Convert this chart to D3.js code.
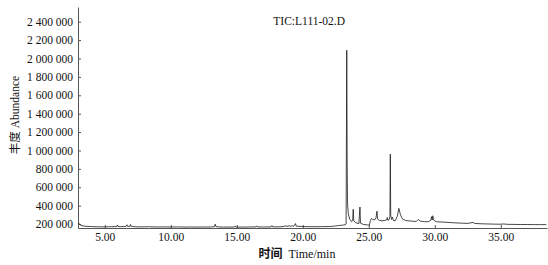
<!DOCTYPE html>
<html>
<head>
<meta charset="utf-8">
<script src="https://cdn.jsdelivr.net/npm/d3@7"></script>
<style>
  body { margin: 0; background: #fff; }
  .tick text { font-family: "Liberation Serif", serif; font-size: 11.5px; fill: #111; }
</style>
</head>
<body>
<svg id="chart"></svg>
<script>
var width = 548;
var height = 265;

// retention time (min) and abundance
var times = [2.97, 3.05, 3.2, 3.5, 4.0, 4.5, 5.0, 5.5, 5.9, 5.95, 6.0, 6.3, 6.6, 6.68, 6.72, 6.9, 6.95, 7.0, 7.2,
  7.6, 8.0, 8.3, 8.35, 8.4, 9.0, 9.5, 10.0, 10.5, 11.0, 11.5, 12.0, 12.5, 13.0, 13.3, 13.36, 13.42, 13.6,
  14.0, 14.5, 14.85, 14.9, 14.95, 15.5, 16.0, 16.45, 16.5, 16.55, 17.0, 17.6, 17.66, 17.72, 18.2, 18.5,
  18.7, 18.8, 18.95, 19.05, 19.2, 19.3, 19.45, 19.5, 19.7, 20.0, 20.5, 21.0, 21.5, 22.0, 22.4, 22.7,
  23.0, 23.2, 23.28, 23.33, 23.36, 23.39, 23.45, 23.55, 23.7, 23.78, 23.82, 23.86, 24.0, 24.25, 24.33,
  24.37, 24.6, 24.9, 25.05, 25.12, 25.2, 25.3, 25.45, 25.55, 25.62, 25.66, 25.8, 26.0, 26.2, 26.35,
  26.4, 26.45, 26.55, 26.6, 26.63, 26.66, 26.72, 26.8, 26.85, 27.0, 27.15, 27.28, 27.4, 27.55, 27.8,
  28.2, 28.6, 28.75, 28.9, 29.2, 29.5, 29.7, 29.75, 29.8, 29.85, 29.9, 30.1, 30.5, 31.0, 31.4, 32.0,
  32.5, 32.9, 33.0, 33.5, 34.0, 34.5, 35.0, 35.2, 35.5, 36.0, 36.5, 37.0, 37.5, 38.0, 38.45];
var abundance = [215000, 205000, 185000, 176000, 172000, 170000, 169000, 171000, 172000, 190000, 173000, 171000, 174000, 192000, 175000, 175000, 195000, 176000, 171000,
  169000, 170000, 170000, 178000, 170000, 168000, 169000, 168000, 169000, 167000, 168000, 167000, 168000, 168000, 171000, 198000, 172000, 169000,
  167000, 167000, 168000, 178000, 167000, 167000, 168000, 169000, 180000, 169000, 168000, 169000, 183000, 169000, 170000, 172000,
  180000, 175000, 182000, 176000, 181000, 174000, 205000, 177000, 175000, 173000, 171000, 171000, 172000, 173000, 177000, 184000,
  188000, 191000, 200000, 2090000, 900000, 420000, 310000, 255000, 225000, 240000, 360000, 235000, 215000, 205000, 385000,
  210000, 195000, 190000, 188000, 240000, 260000, 250000, 245000, 270000, 340000, 255000, 240000, 235000, 238000, 245000,
  270000, 240000, 250000, 280000, 960000, 300000, 250000, 275000, 240000, 235000, 280000, 370000, 300000, 255000, 238000,
  232000, 228000, 250000, 232000, 226000, 225000, 240000, 280000, 245000, 290000, 245000, 225000, 222000, 218000, 214000, 210000,
  207000, 218000, 207000, 203000, 201000, 199000, 198000, 201000, 197000, 196000, 195000, 195000, 194000, 194000, 194000];

var x_ticks = [5, 10, 15, 20, 25, 30, 35];
var y_ticks = [200000, 400000, 600000, 800000, 1000000, 1200000, 1400000, 1600000, 1800000, 2000000, 2200000, 2400000];

var title = "TIC:L111-02.D";
var x_title_cn = "时间";
var x_title_en = "Time/min";
var y_title_cn = "丰度";
var y_title_en = "Abundance";

var left_offset = 78;
var right_edge = 547;
var top_offset = 7;
var bottom_edge = 228;

let data = times.map((t, i) => ({"t": t, "v": abundance[i]}));

let svg = d3.select("#chart").attr("width", width).attr("height", height);

let x = d3.scaleLinear().domain([2.97, 38.5]).range([left_offset, right_edge]);
let y = d3.scaleLinear().domain([157000, 2560000]).range([bottom_edge, top_offset]);

// y axis, ticks point inward
let yaxis = svg.append("g")
  .attr("transform", "translate(" + left_offset + ",0)")
  .call(d3.axisLeft(y)
    .tickValues(y_ticks)
    .tickSize(-3)
    .tickSizeOuter(0)
    .tickPadding(5)
    .tickFormat(d => d3.format(",")(d).replace(/,/g, " ")));

// x axis
let xaxis = svg.append("g")
  .attr("transform", "translate(0," + bottom_edge + ")")
  .call(d3.axisBottom(x)
    .tickValues(x_ticks)
    .tickSize(-3)
    .tickSizeOuter(0)
    .tickPadding(5)
    .tickFormat(d3.format(".2f")));

svg.selectAll(".domain").attr("stroke", "#555");
svg.selectAll(".tick line").attr("stroke", "#555");

// the trace
let line = d3.line().x(d => x(d.t)).y(d => y(d.v));
svg.append("path")
  .datum(data)
  .attr("d", line)
  .attr("fill", "none")
  .attr("stroke", "#1a1a1a")
  .attr("stroke-width", 0.8)
  .attr("stroke-linejoin", "round");

svg.append("text")
  .attr("x", 345)
  .attr("y", 25)
  .attr("text-anchor", "end")
  .style("font-family", "Liberation Serif, serif")
  .style("font-size", "11.5px")
  .attr("fill", "#111")
  .text(title);

let xt = svg.append("text")
  .attr("x", 297)
  .attr("y", 258)
  .attr("text-anchor", "middle")
  .attr("fill", "#111")
  .style("font-size", "12px");
xt.append("tspan")
  .style("font-family", "Noto Sans CJK SC")
  .style("font-weight", "bold")
  .text(x_title_cn);
xt.append("tspan")
  .style("font-family", "Liberation Serif, serif")
  .text("\u00a0 " + x_title_en);

let yt = svg.append("text")
  .attr("transform", "translate(19,115) rotate(-90)")
  .attr("text-anchor", "middle")
  .attr("fill", "#111")
  .style("font-size", "11.5px");
yt.append("tspan")
  .style("font-family", "Noto Sans CJK SC")
  .text(y_title_cn);
yt.append("tspan")
  .style("font-family", "Liberation Serif, serif")
  .text(" " + y_title_en);
</script>
</body>
</html>
